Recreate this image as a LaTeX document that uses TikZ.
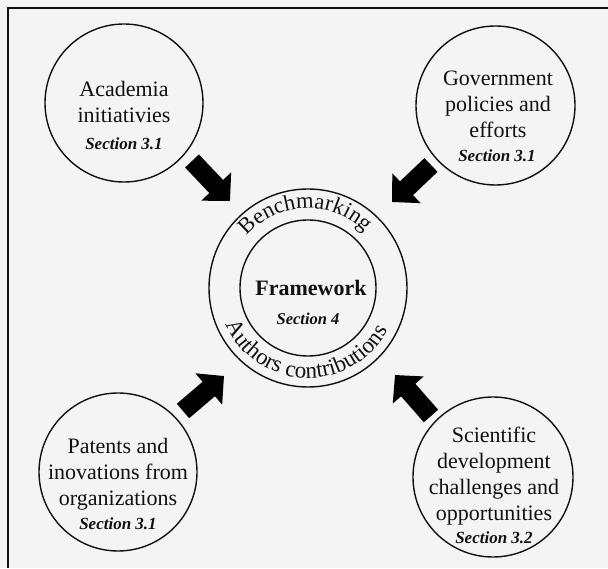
\documentclass[tikz,border=0pt]{standalone}
\usepackage{fontspec}
\setmainfont{Liberation Serif}
\usetikzlibrary{arrows.meta,decorations.text}
\definecolor{bgc}{RGB}{244,244,244}
\definecolor{ink}{RGB}{17,17,17}
\newcommand{\bodyfont}{\fontsize{22}{26}\selectfont}
\newcommand{\secfont}{\fontsize{17}{20}\selectfont\bfseries\itshape}
\begin{document}
\begin{tikzpicture}[x=1pt,y=1pt,
  bubble/.style={draw=ink,line width=1.4pt,circle,inner sep=0pt},
  label/.style={align=center,text=ink,font=\bodyfont,inner sep=0pt},
  fatarrow/.style={draw=black,line width=19pt,-{Triangle[length=20pt,width=40pt]}},
]
\useasboundingbox (0,0) rectangle (608,568);
\fill[bgc] (0,0) rectangle (608,568);
\draw[ink,line width=1.6pt] (8,0) -- (8,560) -- (608,560);

% outer circles
\node[bubble,minimum size=158pt] (tl) at (124,465) {};
\node[bubble,minimum size=159pt] (tr) at (495.5,462.5) {};
\node[bubble,minimum size=158pt] (bl) at (118,96) {};
\node[bubble,minimum size=160pt] (br) at (493,91) {};

% centre rings
\node[bubble,minimum size=198pt] (ring) at (308,280) {};
\node[bubble,minimum size=136pt] (core) at (308,280) {};

% texts (base = baseline of the last line)
\node[label,anchor=base] (tlt) at (124,445) {Academia\\initiativies};
\node[anchor=base,text=ink,font=\secfont] (tls) at (124,418) {Section 3.1};

\node[label,anchor=base] (trt) at (498,430) {Government\\policies and\\efforts};
\node[anchor=base,text=ink,font=\secfont] (trs) at (497,406) {Section 3.1};

\node[label,anchor=base] (blt) at (118,63) {Patents and\\inovations from\\organizations};
\node[anchor=base,text=ink,font=\secfont] (bls) at (118,38) {Section 3.1};

\node[label,anchor=base] (brt) at (494,48) {Scientific\\development\\challenges and\\opportunities};
\node[anchor=base,text=ink,font=\secfont] (brs) at (494,25) {Section 3.2};

\node[anchor=base,text=ink,font=\fontsize{22}{26}\selectfont\bfseries] (fw) at (311,272) {Framework};
\node[anchor=base,text=ink,font=\fontsize{16.5}{20}\selectfont\bfseries\itshape] (fws) at (308,243) {Section 4};

% curved texts
\path[decorate,decoration={text along path,text align=center,
  text={|\fontsize{22.5}{26}\selectfont\color{ink}|Benchmarking}}]
  (ring.center) ++(140:80) arc (140:44:80);
\path[decorate,decoration={text along path,text align=center,
  text={|\fontsize{23}{26}\selectfont\color{ink}|Authors contributions}}]
  (ring.center) ++(196:90) arc (196:340:90);

% arrows
\coordinate (a1s) at (192,407); \coordinate (a1e) at (230,367);
\coordinate (a2s) at (431,403); \coordinate (a2e) at (392,366);
\coordinate (a3s) at (183,157); \coordinate (a3e) at (224,192);
\coordinate (a4s) at (431,152); \coordinate (a4e) at (395,193);
\draw[fatarrow] (a1s) -- (a1e);
\draw[fatarrow] (a2s) -- (a2e);
\draw[fatarrow] (a3s) -- (a3e);
\draw[fatarrow] (a4s) -- (a4e);
\end{tikzpicture}
\end{document}
